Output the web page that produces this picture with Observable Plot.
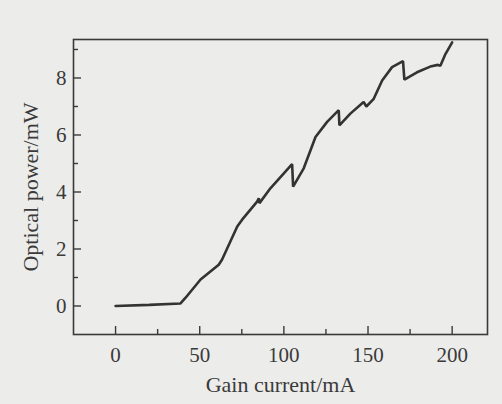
<!DOCTYPE html>
<html>
<head>
<meta charset="utf-8">
<script src="https://cdn.jsdelivr.net/npm/d3@7"></script>
<script src="https://cdn.jsdelivr.net/npm/@observablehq/plot@0.6"></script>
<style>
  html, body { margin: 0; padding: 0; background: #ececea; }
  #chart { width: 502px; height: 404px; }
</style>
</head>
<body>
<div id="chart"></div>
<script>
const current = [0, 20, 38.6, 41.6, 50.5, 61.3, 63.3, 72.3, 75.2, 84.1, 85.1, 85.5, 92, 104.9, 105.5, 111.8, 118.8, 125.7, 132.6, 133, 139.5, 147.4, 149, 153.4, 158.4, 164.3, 170.8, 171.6, 179.1, 187, 191.5, 193, 196, 200];
const power = [0, 0.04, 0.09, 0.29, 0.93, 1.45, 1.63, 2.79, 3.03, 3.66, 3.78, 3.61, 4.13, 4.98, 4.19, 4.83, 5.93, 6.46, 6.87, 6.34, 6.75, 7.16, 7.0, 7.27, 7.91, 8.38, 8.59, 7.94, 8.2, 8.4, 8.46, 8.43, 8.84, 9.25];
const xMajorTicks = [0, 50, 100, 150, 200];
const xMinorTicks = [25, 75, 125, 175];
const yMajorTicks = [0, 2, 4, 6, 8];
const yMinorTicks = [1, 3, 5, 7, 9];
const xTitle = "Gain current/mA";
const yTitle = "Optical power/mW";

const data = current.map((c, i) => ({current: c, power: power[i]}));
const ink = "#3a3a3a";
const W = 502, H = 404, mL = 73, mR = 15, mT = 39, mB = 70;
const innerW = W - mL - mR, innerH = H - mT - mB;

const chart = Plot.plot({
  width: W,
  height: H,
  marginLeft: mL,
  marginRight: mR,
  marginTop: mT,
  marginBottom: mB,
  style: {background: "#ececea", color: ink, fontFamily: "'Liberation Serif', 'DejaVu Serif', serif", fontSize: "20px"},
  x: {domain: [-25, 221]},
  y: {domain: [-1, 9.35]},
  marks: [
    // inward ticks
    Plot.tickX(xMajorTicks, {x: d => d, insetTop: innerH - 8, stroke: ink, strokeWidth: 1.4}),
    Plot.tickX(xMinorTicks, {x: d => d, insetTop: innerH - 5, stroke: ink, strokeWidth: 1.4}),
    Plot.tickY(yMajorTicks, {y: d => d, insetRight: innerW - 8, stroke: ink, strokeWidth: 1.4}),
    Plot.tickY(yMinorTicks, {y: d => d, insetRight: innerW - 5, stroke: ink, strokeWidth: 1.4}),
    // tick labels
    Plot.axisX(xMajorTicks, {tickSize: 0, tickPadding: 13, fill: ink, fontSize: 21, label: null}),
    Plot.axisY(yMajorTicks, {tickSize: 0, tickPadding: 7, fill: ink, fontSize: 21, label: null}),
    // axis titles
    Plot.text([xTitle], {frameAnchor: "bottom", dy: 57, lineAnchor: "bottom", textAnchor: "middle", fontSize: 22, fill: ink}),
    Plot.text([yTitle], {frameAnchor: "left", dx: -51, rotate: -90, lineAnchor: "top", textAnchor: "middle", fontSize: 22, fill: ink}),
    Plot.frame({stroke: ink, strokeWidth: 1.6}),
    Plot.line(data, {x: "current", y: "power", stroke: "#333", strokeWidth: 2.6, strokeLinejoin: "miter"})
  ]
});
document.getElementById("chart").appendChild(chart);
</script>
</body>
</html>
